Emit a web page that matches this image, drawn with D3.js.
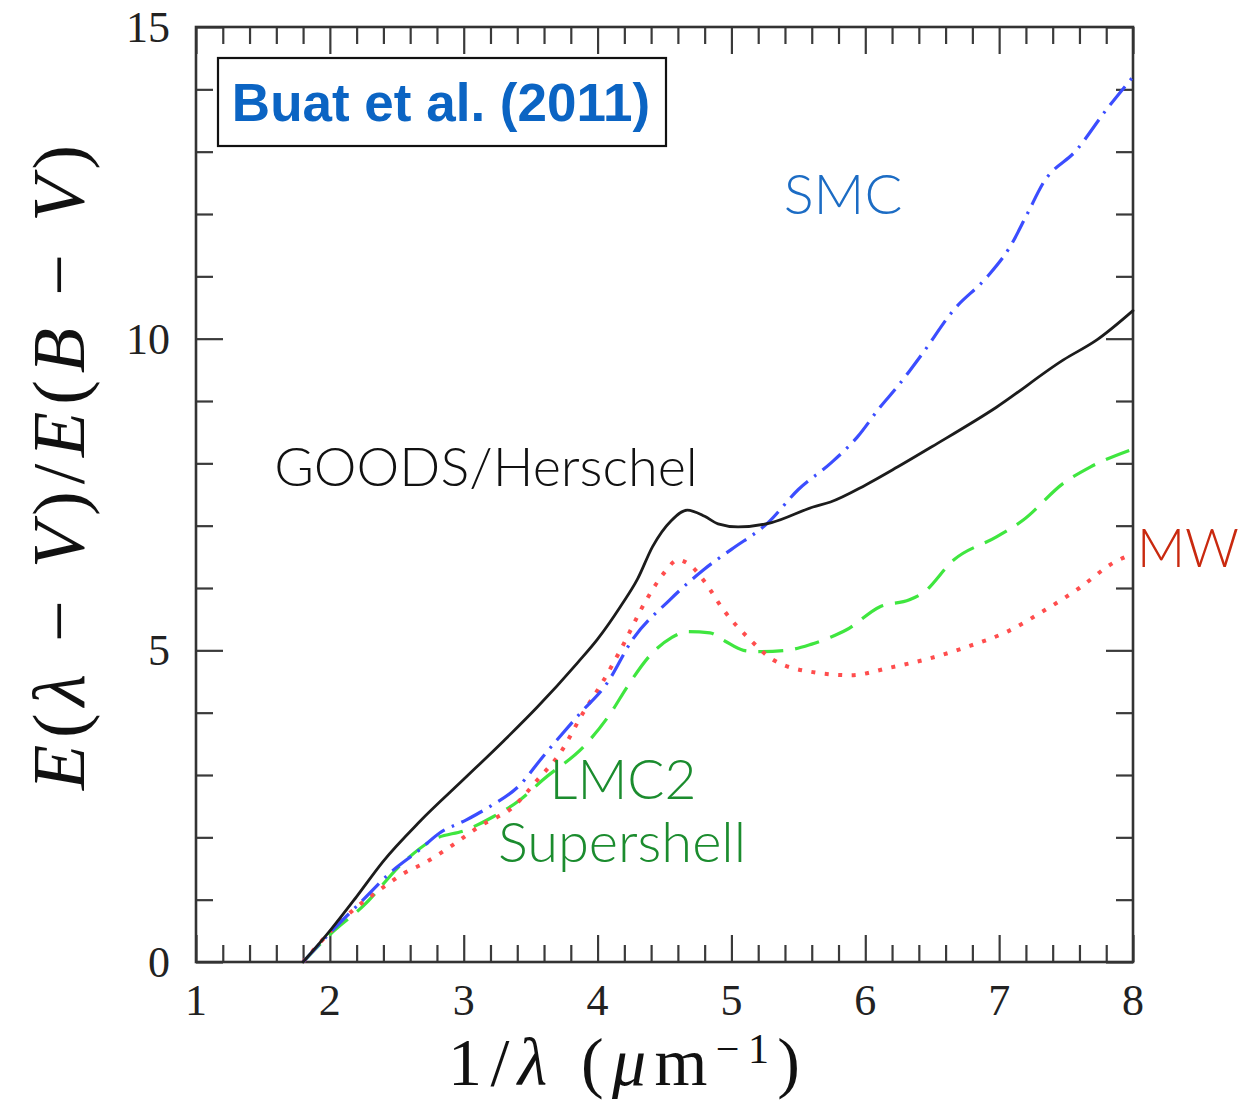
<!DOCTYPE html>
<html>
<head>
<meta charset="utf-8">
<script src="https://cdn.jsdelivr.net/npm/d3@7"></script>
<style>
  html, body { margin: 0; padding: 0; background: #fff; }
  svg { display: block; }
</style>
</head>
<body>
<svg id="chart" width="1253" height="1101"></svg>
<script>
// Extinction curves E(λ−V)/E(B−V) versus inverse wavelength
const goodsX = [1.8, 2.0, 2.2, 2.4, 2.67, 3.0, 3.3, 3.55, 3.85, 4.0, 4.17, 4.3, 4.41, 4.55, 4.67, 4.8, 4.9, 5.05, 5.3, 5.61, 5.74, 6.0, 6.24, 6.5, 6.98, 7.48, 7.73, 8.0];
const goodsY = [0, 0.5, 1.05, 1.62, 2.25, 2.93, 3.55, 4.09, 4.8, 5.18, 5.7, 6.15, 6.66, 7.08, 7.25, 7.15, 7.03, 6.98, 7.05, 7.3, 7.38, 7.65, 7.94, 8.27, 8.9, 9.66, 9.98, 10.45];

const mwX = [1.8, 2.0, 2.2, 2.4, 2.55, 2.7, 2.92, 3.12, 3.37, 3.55, 3.72, 3.89, 4.04, 4.17, 4.37, 4.5, 4.6, 4.7, 4.8, 4.94, 5.14, 5.31, 5.61, 5.89, 6.18, 6.48, 6.78, 7.06, 7.33, 7.6, 7.85, 8.0];
const mwY = [0, 0.48, 0.88, 1.2, 1.42, 1.58, 1.88, 2.18, 2.49, 2.92, 3.35, 3.99, 4.5, 5.0, 5.83, 6.25, 6.45, 6.35, 6.1, 5.65, 5.17, 4.85, 4.65, 4.6, 4.72, 4.87, 5.07, 5.3, 5.63, 6.0, 6.4, 6.55];

const smcX = [1.8, 2.02, 2.25, 2.45, 2.67, 2.82, 3.02, 3.2, 3.42, 3.59, 3.87, 4.07, 4.26, 4.54, 4.79, 5.0, 5.27, 5.5, 5.74, 5.94, 6.11, 6.24, 6.43, 6.66, 6.91, 7.08, 7.21, 7.33, 7.58, 7.8, 8.0];
const smcY = [0, 0.51, 1.0, 1.43, 1.8, 2.07, 2.28, 2.5, 2.84, 3.29, 3.99, 4.47, 5.17, 5.81, 6.29, 6.62, 7.04, 7.58, 8.0, 8.42, 8.9, 9.23, 9.77, 10.46, 10.99, 11.47, 12.0, 12.5, 13.03, 13.67, 14.2];

const lmcX = [1.8, 2.02, 2.25, 2.55, 2.77, 3.02, 3.22, 3.42, 3.59, 3.92, 4.1, 4.22, 4.41, 4.55, 4.67, 4.84, 4.95, 5.09, 5.19, 5.41, 5.6, 5.74, 5.86, 6.11, 6.33, 6.43, 6.66, 6.98, 7.18, 7.48, 7.68, 8.0];
const lmcY = [0, 0.48, 0.9, 1.6, 1.96, 2.12, 2.33, 2.6, 2.92, 3.51, 4.0, 4.41, 4.96, 5.2, 5.3, 5.28, 5.15, 5.0, 4.98, 5.0, 5.1, 5.21, 5.33, 5.7, 5.81, 5.92, 6.45, 6.82, 7.09, 7.68, 7.94, 8.23];

const xMajorTicks = [1, 2, 3, 4, 5, 6, 7, 8];
const yMajorTicks = [0, 5, 10, 15];

const svg = d3.select("#chart");
const plot = { left: 196, right: 1133, top: 27, bottom: 962 };

const x = d3.scaleLinear().domain([1, 8]).range([plot.left, plot.right]);
const y = d3.scaleLinear().domain([0, 15]).range([plot.bottom, plot.top]);

const xMinor = d3.range(1, 8.001, 0.2).map(v => +v.toFixed(2)).filter(v => !xMajorTicks.includes(v));
const yMinor = d3.range(0, 15.001, 1).filter(v => !yMajorTicks.includes(v));

const tickColor = "#3a3a3a";
const serif = "'Liberation Serif', 'DejaVu Serif', serif";

// Inward ticks on all four sides
function tickAxis(gen, values, size, transform) {
  const g = svg.append("g").attr("transform", transform)
    .call(gen.tickValues(values).tickSize(size).tickFormat(""));
  g.select(".domain").remove();
  g.selectAll(".tick line").attr("stroke", tickColor).attr("stroke-width", 2.2);
  return g;
}
tickAxis(d3.axisBottom(x), xMajorTicks, -27, `translate(0,${plot.bottom})`);
tickAxis(d3.axisBottom(x), xMinor, -17, `translate(0,${plot.bottom})`);
tickAxis(d3.axisTop(x), xMajorTicks, -27, `translate(0,${plot.top})`);
tickAxis(d3.axisTop(x), xMinor, -17, `translate(0,${plot.top})`);
tickAxis(d3.axisLeft(y), yMajorTicks, -27, `translate(${plot.left},0)`);
tickAxis(d3.axisLeft(y), yMinor, -17, `translate(${plot.left},0)`);
tickAxis(d3.axisRight(y), yMajorTicks, -27, `translate(${plot.right},0)`);
tickAxis(d3.axisRight(y), yMinor, -17, `translate(${plot.right},0)`);

// Frame
svg.append("rect")
  .attr("x", plot.left).attr("y", plot.top)
  .attr("width", plot.right - plot.left).attr("height", plot.bottom - plot.top)
  .attr("fill", "none").attr("stroke", "#333").attr("stroke-width", 2.6);

// Tick labels
svg.append("g").selectAll("text").data(xMajorTicks).join("text")
  .attr("x", d => x(d)).attr("y", 1015)
  .attr("text-anchor", "middle")
  .attr("font-family", serif).attr("font-size", 44).attr("fill", "#222")
  .text(d => d);
svg.append("g").selectAll("text").data(yMajorTicks).join("text")
  .attr("x", 170).attr("y", d => y(d) + 15)
  .attr("text-anchor", "end")
  .attr("font-family", serif).attr("font-size", 44).attr("fill", "#222")
  .text(d => d);

// Axis titles
const xTitle = svg.append("text")
  .attr("x", 448).attr("y", 1085)
  .attr("textLength", 352).attr("lengthAdjust", "spacing")
  .attr("font-family", serif).attr("font-size", 68).attr("fill", "#111");
xTitle.append("tspan").text("1/");
xTitle.append("tspan").attr("font-style", "italic").text("λ");
xTitle.append("tspan").text(" (");
xTitle.append("tspan").attr("font-style", "italic").text("μ");
xTitle.append("tspan").text("m");
xTitle.append("tspan").attr("font-size", 42).attr("dy", -22).text("−1");
xTitle.append("tspan").attr("dy", 22).text(")");

const yTitle = svg.append("text")
  .attr("transform", "translate(84,790) rotate(-90)")
  .attr("textLength", 645).attr("lengthAdjust", "spacing")
  .attr("font-family", serif).attr("font-size", 74).attr("fill", "#111");
[["E", true], ["(", false], ["λ", true], [" − ", false], ["V", true], [")/", false],
 ["E", true], ["(", false], ["B", true], [" − ", false], ["V", true], [")", false]]
  .forEach(([t, it]) => yTitle.append("tspan").attr("font-style", it ? "italic" : "normal").text(t));

// Curves
const line = d3.line()
  .x(d => x(d[0])).y(d => y(d[1]))
  .curve(d3.curveMonotoneX);

const series = [
  { xs: lmcX, ys: lmcY, color: "#3fe63f", width: 3.2, dash: "25 12", cap: "butt" },
  { xs: mwX, ys: mwY, color: "#ff4d4d", width: 4, dash: "4 9.5", cap: "butt" },
  { xs: smcX, ys: smcY, color: "#3b4dff", width: 3.2, dash: "24 8 2.5 8", cap: "butt" },
  { xs: goodsX, ys: goodsY, color: "#1c1c1c", width: 2.8, dash: null, cap: "round" }
];
series.forEach(s => {
  svg.append("path")
    .datum(s.xs.map((v, i) => [v, s.ys[i]]))
    .attr("d", line)
    .attr("fill", "none")
    .attr("stroke", s.color)
    .attr("stroke-width", s.width)
    .attr("stroke-dasharray", s.dash)
    .attr("stroke-linecap", s.cap)
    .attr("stroke-linejoin", "round");
});

// Annotations
const sans = "Lato, 'Liberation Sans', sans-serif";
svg.append("rect")
  .attr("x", 218).attr("y", 58).attr("width", 448).attr("height", 88)
  .attr("fill", "#fff").attr("stroke", "#111").attr("stroke-width", 2.2);
svg.append("text")
  .attr("x", 441).attr("y", 121).attr("text-anchor", "middle")
  .attr("font-family", "'Liberation Sans', Arial, sans-serif").attr("font-weight", "bold")
  .attr("font-size", 53).attr("fill", "#0b64c3")
  .text("Buat et al. (2011)");

const labels = [
  { text: "SMC", x: 843, y: 214, size: 56, color: "#1c6cc4" },
  { text: "GOODS/Herschel", x: 486, y: 486, size: 54, color: "#111" },
  { text: "MW", x: 1188, y: 567, size: 53, color: "#c9290f" },
  { text: "LMC2", x: 623, y: 799, size: 55, color: "#1b8c2e" },
  { text: "Supershell", x: 622, y: 862, size: 56, color: "#1b8c2e" }
];
svg.append("g").selectAll("text").data(labels).join("text")
  .attr("x", d => d.x).attr("y", d => d.y)
  .attr("text-anchor", "middle")
  .attr("font-family", sans).attr("font-weight", 300)
  .attr("font-size", d => d.size).attr("fill", d => d.color)
  .text(d => d.text);
</script>
</body>
</html>
